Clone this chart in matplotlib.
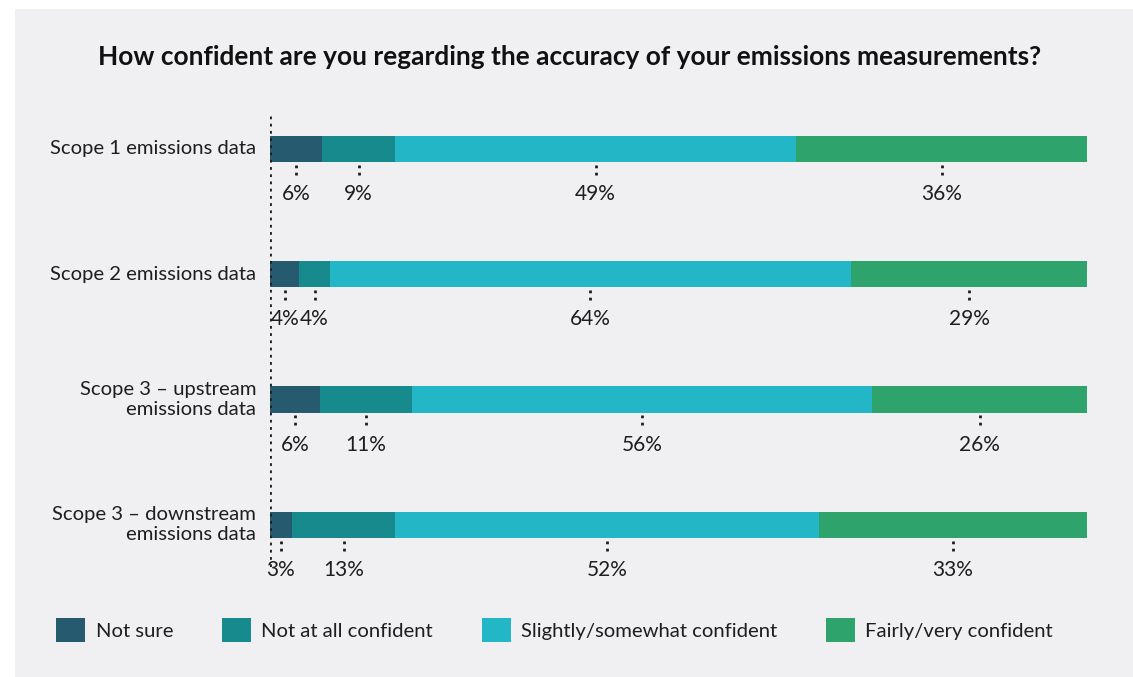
import matplotlib
matplotlib.use("Agg")
from matplotlib import pyplot as plt
from matplotlib.patches import Rectangle, Patch
import numpy as np

# data (share of respondents, %)
categories = ["Scope 1 emissions data", "Scope 2 emissions data",
              "Scope 3 \u2013 upstream\nemissions data",
              "Scope 3 \u2013 downstream\nemissions data"]
series = ["Not sure", "Not at all confident",
          "Slightly/somewhat confident", "Fairly/very confident"]
not_sure = [6.4, 3.6, 6.1, 2.7]
not_at_all = [8.9, 3.7, 11.3, 12.6]
slightly = [49.1, 63.8, 56.3, 51.9]
fairly = [35.6, 28.9, 26.3, 32.8]
colors = ["#265a6e", "#178a8e", "#23b6c7", "#2ea36b"]

title = "How confident are you regarding the accuracy of your emissions measurements?"
bg = "#f0f0f2"
txt = "#1e1e1e"
font = "Lato"

W, H = 1133, 677
fig = plt.figure(figsize=(W / 100, H / 100), dpi=100)
fig.patch.set_facecolor("white")
fig.patches.append(Rectangle((15 / W, 0), 1, 1 - 9 / H, transform=fig.transFigure,
                             facecolor=bg, edgecolor="none", zorder=-10))

# plot area: x 270..1087 px, y 100..580 px
ax = fig.add_axes([270 / W, 1 - 580 / H, 817 / W, 480 / H])
ax.set_xlim(0, 100)
ax.set_ylim(3.44, -0.39)
ax.axis("off")

data = np.array([not_sure, not_at_all, slightly, fairly])
data = data / data.sum(axis=0) * 100
y = np.arange(len(categories))
bar_h = 0.21
dots = (0, (1, 1.6))

left = np.zeros(len(categories))
for vals, raw, col in zip(data, [not_sure, not_at_all, slightly, fairly], colors):
    ax.barh(y, vals, left=left, height=bar_h, color=col, edgecolor="none")
    mids = left + vals / 2
    for yi, xm, r in zip(y, mids, raw):
        ax.vlines(xm, yi + bar_h / 2 + 0.02, yi + bar_h / 2 + 0.12, color=txt,
                  linewidth=2, linestyles=dots)
        ax.text(xm, yi + 0.36, f"{r:.0f}%", ha="center", va="center",
                fontsize=15, color=txt, family=font)
    left += vals

# dotted baseline at 0
ax.vlines(0, -0.26, 3.34, color=txt, linewidth=2, linestyles=dots, zorder=3)

for yi, cat in zip(y, categories):
    ax.text(-1.7, yi, cat, ha="right", va="center", fontsize=14.6, color=txt,
            family=font, linespacing=1.2)

fig.text(570 / W, 1 - 57 / H, title, ha="center", va="center", fontsize=18.9,
         fontweight="bold", color="#111111", family=font)

handles = [Patch(facecolor=c, edgecolor="none", label=s) for c, s in zip(colors, series)]
leg = fig.legend(handles=handles, ncol=4, loc="center left",
                 bbox_to_anchor=(56 / W, 1 - 630 / H), frameon=False,
                 prop={"family": font, "size": 14.6}, handlelength=1.45,
                 handleheight=1.45, handletextpad=0.5, columnspacing=2.4,
                 borderpad=0, borderaxespad=0)
for t in leg.get_texts():
    t.set_color(txt)

fig.savefig("out.png", dpi=100, facecolor="white")
